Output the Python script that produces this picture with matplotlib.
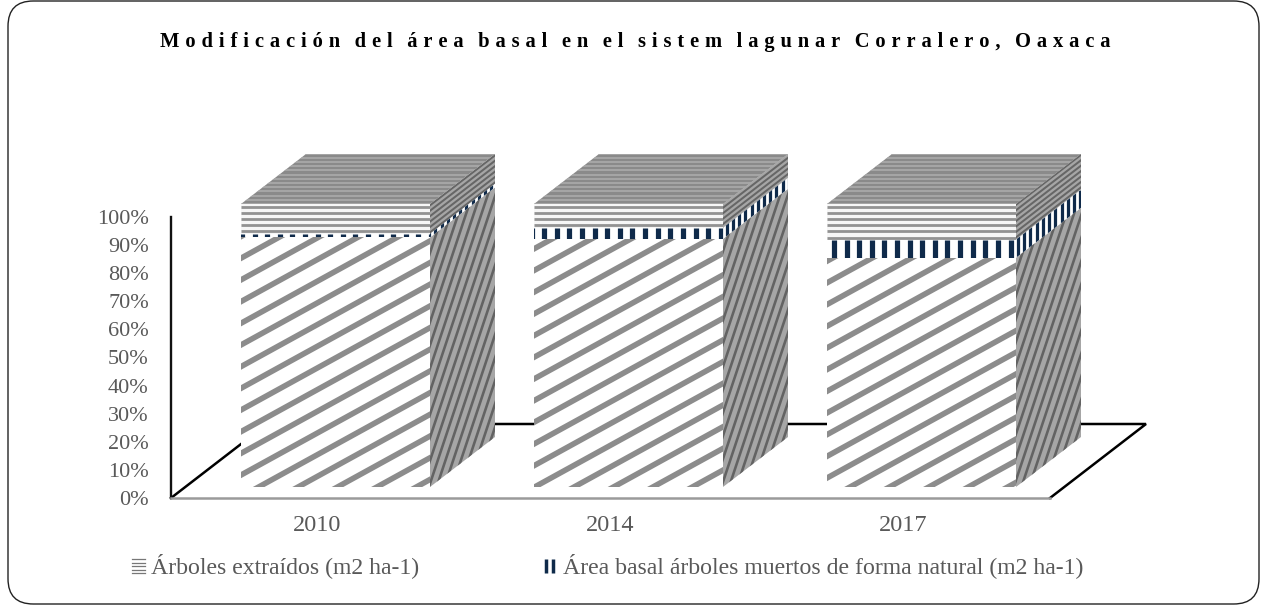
import numpy as np
import matplotlib
matplotlib.use("Agg")
import matplotlib.pyplot as plt
from matplotlib.collections import LineCollection
from matplotlib.legend_handler import HandlerBase
from matplotlib.lines import Line2D
from matplotlib.patches import FancyBboxPatch, Polygon

# Data
years = ["2010", "2014", "2017"]
area_viva = [88.2, 87.7, 81.0]
area_muertos = [1.3, 3.9, 6.4]
extraidos = [10.5, 8.4, 12.6]
y_ticks = list(range(0, 101, 10))
title = "Modificación del área basal en el sistem lagunar Corralero, Oaxaca"
legend_labels = ["Árboles extraídos (m2 ha-1)",
                 "Área basal árboles muertos de forma natural (m2 ha-1)"]

W, H = 1263, 607
plt.rcParams["font.family"] = ["Liberation Serif", "DejaVu Serif"]
fig = plt.figure(figsize=(W / 100, H / 100), dpi=100, facecolor="white")

# Rounded frame
frame = FancyBboxPatch((8 / W, 3 / H), 1251 / W, 603 / H,
                       boxstyle="round,pad=0,rounding_size=0.02",
                       transform=fig.transFigure, fc="white", ec="#222222",
                       lw=1.0, mutation_aspect=W / H, zorder=-5)
fig.add_artist(frame)

# Plot area
L, R, B, T = 171, 1050, 498, 217
ax = fig.add_axes([L / W, 1 - B / H, (R - L) / W, (B - T) / H])
ax.patch.set_alpha(0)
ax.set_xlim(-0.5, 2.5)
ax.set_ylim(0, 100)
PX_X = 3 / (R - L)      # category units per pixel
PX_Y = 100 / (B - T)    # percent units per pixel

ax.set_xticks(range(3), years)
ax.set_yticks(y_ticks, [f"{v}%" for v in y_ticks])
ax.tick_params(axis="y", length=0, pad=16, labelsize=16, labelcolor="#595959")
ax.tick_params(axis="x", length=0, pad=12, labelsize=17.5, labelcolor="#595959")
for s in ("top", "right"):
    ax.spines[s].set_visible(False)
ax.spines["left"].set_linewidth(1.7)
ax.spines["left"].set_color("#111111")
ax.spines["bottom"].set_linewidth(1.8)
ax.spines["bottom"].set_color("#9a9a9a")

# Floor outline, drawn behind the bars
fdx, fdy = 96 * PX_X, 74 * PX_Y
ax.plot([-0.5, -0.5 + fdx, 2.5 + fdx, 2.5], [0, fdy, fdy, 0], color="black",
        lw=1.8, clip_on=False, zorder=1, solid_joinstyle="miter")


def stripes(poly, direction, period, colour, width, z):
    """Parallel lines filling a polygon, clipped to it. Works in pixel units."""
    pts = np.asarray(poly) / [PX_X, PX_Y]
    d = np.asarray(direction, float)
    d /= np.hypot(*d)
    n = np.array([-d[1], d[0]])
    off = pts @ n
    along = pts @ d
    segs = []
    for o in np.arange(np.floor(off.min() / period) * period, off.max() + period, period):
        a = n * o + d * along.min()
        b = n * o + d * along.max()
        segs.append([a * [PX_X, PX_Y], b * [PX_X, PX_Y]])
    lc = LineCollection(segs, colors=colour, linewidths=width * 0.72, zorder=z,
                        capstyle="butt")
    ax.add_collection(lc, autolim=False)
    clip = Polygon(poly, closed=True, transform=ax.transData, fc="none", ec="none")
    lc.set_clip_path(clip)
    lc.set_clip_box(None)


def face(poly, base, z):
    ax.add_patch(Polygon(poly, closed=True, fc=base, ec="none", clip_on=False, zorder=z))


BAR_W = 189 * PX_X
SHIFT = 18 * PX_X
BASE = 11 * PX_Y
SCALE = 283 / (B - T)      # bar height relative to the wall
DX, DY = 65 * PX_X, 50 * PX_Y

for i in range(3):
    x0 = i + SHIFT - BAR_W / 2
    x1 = x0 + BAR_W
    levels = np.cumsum([0, area_viva[i], area_muertos[i], extraidos[i]])
    y = BASE + levels * SCALE
    z = 3

    def front(a, b):
        return [(x0, a), (x1, a), (x1, b), (x0, b)]

    def side(a, b):
        return [(x1, a), (x1 + DX, a + DY), (x1 + DX, b + DY), (x1, b)]

    # Standing trees
    p = front(y[0], y[1])
    face(p, "white", z)
    stripes(p, (1, 0.55), 19, "#8c8c8c", 5.6, z + 1)
    p = side(y[0], y[1])
    face(p, "#a6a6a6", z)
    stripes(p, (1, 3.0), 7.3, "#636363", 2.6, z + 1)

    # Naturally dead trees
    p = front(y[1], y[2])
    face(p, "white", z)
    stripes(p, (0, 1), 12.6, "#0f2a4a", 5.2, z + 1)
    p = side(y[1], y[2])
    face(p, "white", z)
    stripes(p, (0, 1), 6.2, "#0f2a4a", 3.2, z + 1)

    # Extracted trees
    p = front(y[2], y[3])
    face(p, "#f6f6f6", z)
    stripes(p, (1, 0), 6.2, "#929292", 2.8, z + 1)
    p = side(y[2], y[3])
    face(p, "#a6a6a6", z)
    stripes(p, (65, 50), 4.3, "#666666", 2.0, z + 1)
    top = [(x0, y[3]), (x1, y[3]), (x1 + DX, y[3] + DY), (x0 + DX, y[3] + DY)]
    face(top, "#8a8a8a", z)
    stripes(top, (1, 0), 4.2, "#aeaeae", 1.5, z + 1)


# Legend with small drawn keys
class KeyLines(HandlerBase):
    def __init__(self, vertical):
        super().__init__()
        self.vertical = vertical

    def create_artists(self, legend, orig, xd, yd, width, height, fontsize, trans):
        arts = []
        if self.vertical:
            for fx in (0.15, 0.72):
                arts.append(Line2D([fx * width] * 2, [0.0, height], color="#0f2a4a",
                                   lw=2.5, solid_capstyle="butt", transform=trans))
        else:
            for fy in (0.0, 0.25, 0.5, 0.75, 1.0):
                arts.append(Line2D([0, width], [fy * height] * 2, color="#777777",
                                   lw=0.9, transform=trans))
        return arts


h1, h2 = Line2D([], []), Line2D([], [])
leg = fig.legend([h1, h2], legend_labels, ncol=2, frameon=False, fontsize=17.1,
                 labelcolor="#595959", loc="center left",
                 bbox_to_anchor=(132 / W, 1 - 566 / H), borderaxespad=0, borderpad=0,
                 handlelength=0.55, handleheight=0.54, handletextpad=0.25, columnspacing=5.26,
                 handler_map={h1: KeyLines(False), h2: KeyLines(True)})

# Title with wide letter spacing
spaced = "\u2009\u200a \u200a\u200a".join("\u2009\u200a".join(word) for word in title.split(" "))
fig.text(635.5 / W, 1 - 42 / H, spaced, ha="center", va="center", fontsize=14.8,
         fontweight="bold", color="black")

fig.savefig("out.png", dpi=100)
